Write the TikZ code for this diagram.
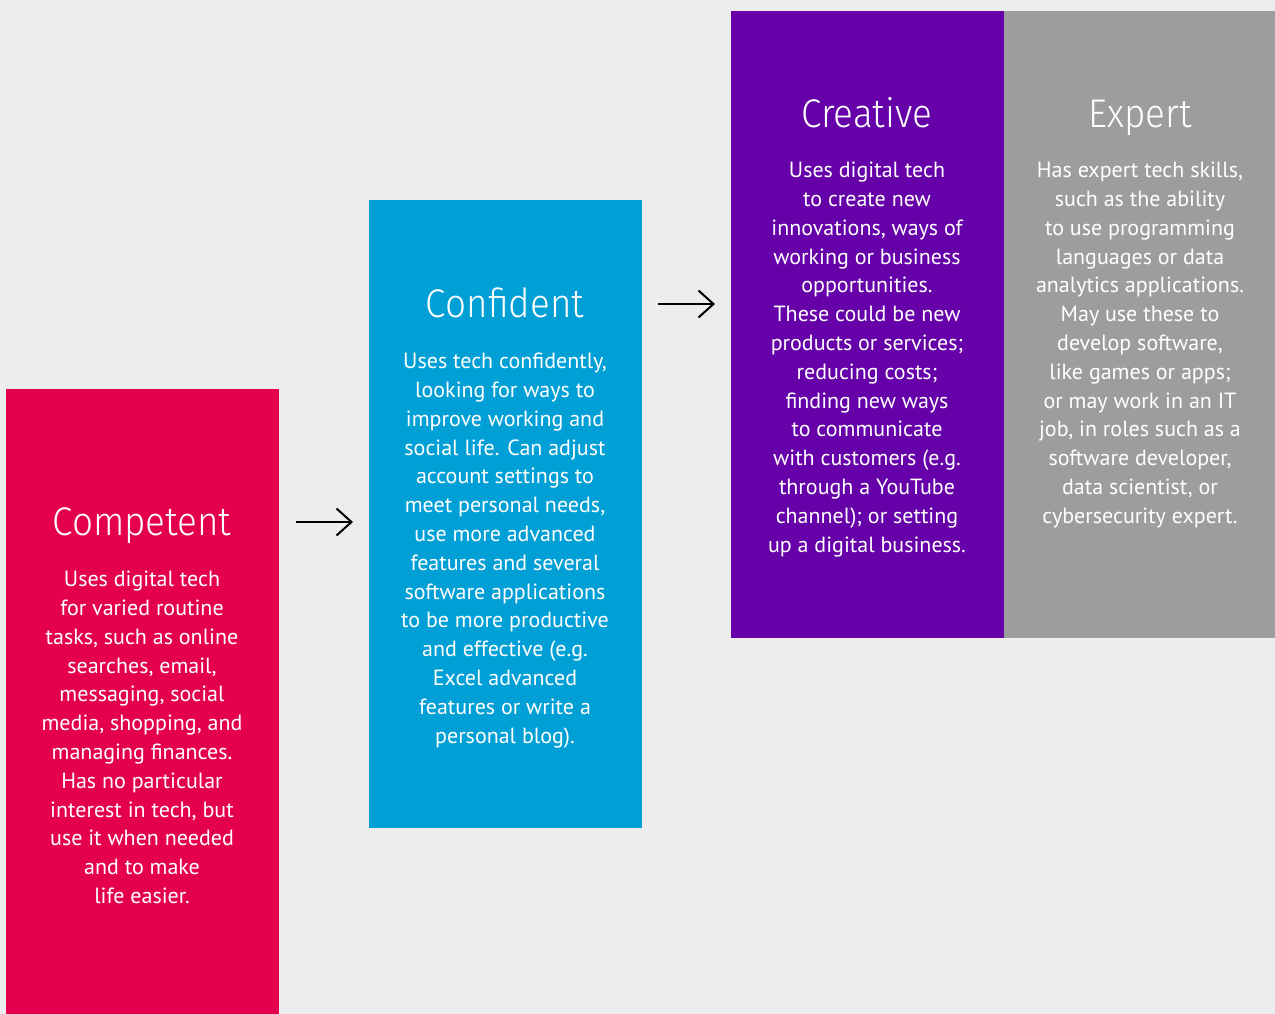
\documentclass[tikz,border=0pt]{standalone}
\usepackage{fontspec}
\setmainfont{PT Sans}
\newfontfamily\titlefont[FakeStretch=0.92]{Fira Sans Light}
\usetikzlibrary{arrows.meta}
\definecolor{bgc}{HTML}{EDEDED}
\definecolor{redc}{HTML}{E4004C}
\definecolor{bluec}{HTML}{009FD6}
\definecolor{purc}{HTML}{6600A9}
\definecolor{grayc}{HTML}{9D9D9C}
\tikzset{
  panel/.style={fill=#1, draw=none},
  ttl/.style={text=white, font=\titlefont\fontsize{40}{44}\selectfont, anchor=base, inner sep=0pt},
  body/.style={text=white, font=\fontsize{22}{28.8}\selectfont, align=center, anchor=north, inner sep=0pt},
  flow/.style={-{Straight Barb[length=15pt,width=27pt,line width=2pt]}, line width=2pt, black}
}
\begin{document}
\begin{tikzpicture}[x=1pt,y=-1pt]
\useasboundingbox (0,0) rectangle (1275,1014);
\fill[bgc] (0,0) rectangle (1275,1014);
% panels
\fill[panel=redc] (6,389) rectangle (279,1014);
\fill[panel=bluec] (369,200) rectangle (642,828);
\fill[panel=purc] (731,11) rectangle (1004,638);
\fill[panel=grayc] (1004,11) rectangle (1275,638);
% titles
\node[ttl] (t1) at (142,535) {Competent};
\node[ttl] (t2) at (505,317) {Confident};
\node[ttl] (t3) at (867,128) {Creative};
\node[ttl] (t4) at (1140,128) {Expert};
% bodies
\node[body] (b1) at (142,571) {Uses digital tech\\for varied routine\\tasks, such as online\\searches, email,\\messaging, social\\media, shopping, and\\managing finances.\\Has no particular\\interest in tech, but\\use it when needed\\and to make\\life easier.};
\node[body] (b2) at (505,353) {Uses tech confidently,\\looking for ways to\\improve working and\\social life. Can adjust\\account settings to\\meet personal needs,\\use more advanced\\features and several\\software applications\\to be more productive\\and effective (e.g.\\Excel advanced\\features or write a\\personal blog).};
\node[body] (b3) at (867,162) {Uses digital tech\\to create new\\innovations, ways of\\working or business\\opportunities.\\These could be new\\products or services;\\reducing costs;\\finding new ways\\to communicate\\with customers (e.g.\\through a YouTube\\channel); or setting\\up a digital business.};
\node[body] (b4) at (1140,162) {Has expert tech skills,\\such as the ability\\to use programming\\languages or data\\analytics applications.\\May use these to\\develop software,\\like games or apps;\\or may work in an IT\\job, in roles such as a\\software developer,\\data scientist, or\\cybersecurity expert.};
% arrows
\coordinate (a1s) at (296,522);
\coordinate (a1e) at (353,522);
\coordinate (a2s) at (658,304);
\coordinate (a2e) at (715,304);
\draw[flow] (a1s) -- (a1e);
\draw[flow] (a2s) -- (a2e);
\end{tikzpicture}
\end{document}
